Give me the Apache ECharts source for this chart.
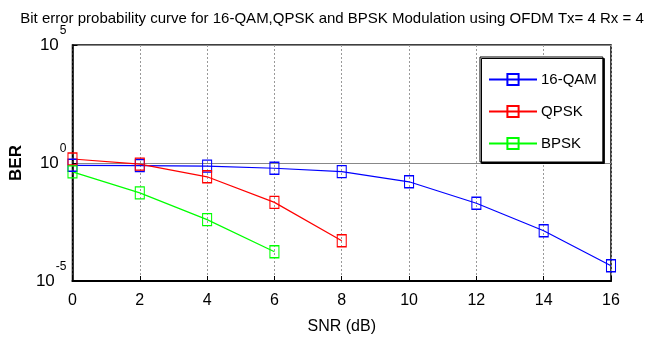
<!DOCTYPE html>
<html>
<head>
<meta charset="utf-8">
<script src="https://cdn.jsdelivr.net/npm/echarts@6/dist/echarts.min.js"></script>
<style>
  html, body { margin: 0; padding: 0; background: #fff; }
  #chart { width: 664px; height: 351px; }
</style>
</head>
<body>
<div id="chart"></div>
<script>
const FONT = "'Liberation Sans Narrow', 'Liberation Sans', Arial, sans-serif";

const snr = [0, 2, 4, 6, 8, 10, 12, 14, 16];
const qam16 = [0.8, 0.78, 0.74, 0.6, 0.43, 0.16, 0.0196, 0.00135, 0.000044];
const qpsk = [1.48, 0.9, 0.26, 0.0215, 0.00051];
const bpsk = [0.42, 0.054, 0.004, 0.000174];
const seriesNames = ['16-QAM', 'QPSK', 'BPSK'];
const seriesColors = ['#0000ff', '#ff0000', '#00ff00'];

function pairs(ys) {
  return ys.map((y, i) => [snr[i], y]);
}

function makeSeries(name, color, ys) {
  return {
    name: name,
    type: 'line',
    data: pairs(ys),
    symbol: 'rect',
    symbolSize: [9, 12],
    showAllSymbol: true,
    lineStyle: { color: color, width: 1.2 },
    itemStyle: { color: 'rgba(255,255,255,0)', borderColor: color, borderWidth: 1.2 },
    emphasis: { disabled: true },
    animation: false
  };
}

const chart = echarts.init(document.getElementById('chart'));

chart.setOption({
  animation: false,
  title: {
    text: 'Bit error probability curve for 16-QAM,QPSK and BPSK Modulation using OFDM Tx= 4 Rx = 4',
    left: 'center',
    top: 6,
    textStyle: { fontFamily: FONT, fontSize: 15, fontWeight: 'normal', color: '#000' }
  },
  grid: {
    left: 69, right: 53, top: 45, bottom: 70,
    show: true, borderColor: '#000', borderWidth: 1.5,
    containLabel: false
  },
  legend: {
    orient: 'vertical',
    left: 480,
    top: 57,
    padding: [15, 6, 11, 8],
    itemWidth: 48,
    itemHeight: 14,
    itemGap: 17,
    backgroundColor: '#fff',
    borderColor: '#000',
    borderWidth: 1,
    shadowColor: '#000',
    shadowOffsetX: 1.5,
    shadowOffsetY: 1.5,
    shadowBlur: 0,
    textStyle: { fontFamily: FONT, fontSize: 15, color: '#000', padding: [0, 0, 0, -1] },
    data: seriesNames
  },
  xAxis: {
    type: 'value',
    min: 0, max: 16, interval: 2,
    name: 'SNR (dB)',
    nameLocation: 'middle',
    nameGap: 38,
    nameTextStyle: { fontFamily: FONT, fontSize: 16, color: '#000' },
    axisLine: { lineStyle: { color: '#000', width: 2 } },
    axisTick: { inside: true, length: 5, lineStyle: { color: '#000' } },
    axisLabel: { fontFamily: FONT, fontSize: 16, color: '#000', margin: 12 },
    splitLine: { show: true, lineStyle: { color: '#999', type: [2, 2], width: 1 } }
  },
  yAxis: {
    type: 'log',
    logBase: 10,
    min: 1e-5, max: 1e5,
    interval: 5,
    name: 'BER',
    nameLocation: 'middle',
    nameGap: 41,
    nameTextStyle: { fontFamily: FONT, fontSize: 17, fontWeight: 'bold', color: '#000' },
    axisLine: { lineStyle: { color: '#000', width: 1.5 } },
    axisTick: { inside: true, length: 5, lineStyle: { color: '#000' } },
    axisLabel: {
      margin: 6,
      formatter: function (v) {
        return '{b|10}{s|' + Math.round(Math.log10(v)) + '}';
      },
      rich: {
        b: { fontFamily: FONT, fontSize: 17, color: '#000', lineHeight: 40 },
        s: { fontFamily: FONT, fontSize: 12, color: '#000', verticalAlign: 'top', padding: [0, 0, 0, 1] }
      }
    },
    splitLine: { show: true, lineStyle: { color: '#888', width: 1 } }
  },
  series: [
    makeSeries(seriesNames[0], seriesColors[0], qam16),
    makeSeries(seriesNames[1], seriesColors[1], qpsk),
    makeSeries(seriesNames[2], seriesColors[2], bpsk)
  ]
});
</script>
</body>
</html>
